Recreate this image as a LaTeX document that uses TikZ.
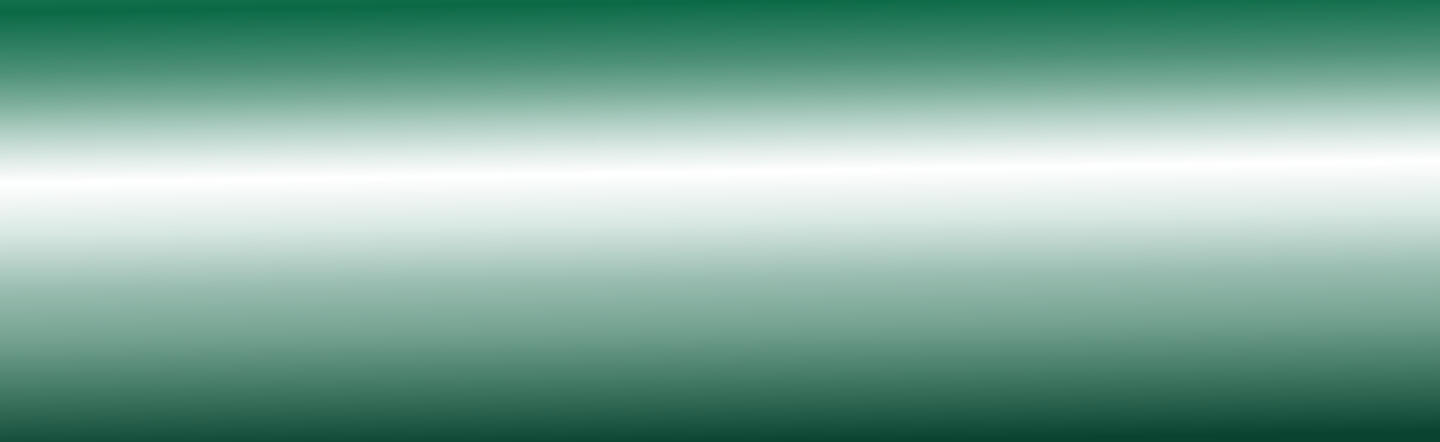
\documentclass[tikz,border=0pt]{standalone}
\usepackage{tikz}
\definecolor{gbot}{HTML}{0A4430}
\definecolor{gl1}{HTML}{437A66}
\definecolor{gl2}{HTML}{73A190}
\definecolor{gl3}{HTML}{98BCAF}
\definecolor{gl4}{HTML}{D9E8E3}
\definecolor{gwhite}{HTML}{FFFFFF}
\definecolor{gu1}{HTML}{E2EDE9}
\definecolor{gu2}{HTML}{B0CFC4}
\definecolor{gu3}{HTML}{7AAD99}
\definecolor{gu4}{HTML}{4D9078}
\definecolor{gu5}{HTML}{2A7D5E}
\definecolor{gtopdark}{HTML}{0B6946}
\definecolor{gtopedge}{HTML}{378B68}
\pgfdeclareverticalshading{greenband}{100bp}{%
  color(0bp)=(gbot);
  color(30.22bp)=(gbot);
  color(35.85bp)=(gl1);
  color(40.31bp)=(gl2);
  color(44.78bp)=(gl3);
  color(49.96bp)=(gl4);
  color(54.42bp)=(gwhite);
  color(56.29bp)=(gu1);
  color(58.97bp)=(gu2);
  color(61.65bp)=(gu3);
  color(64.33bp)=(gu4);
  color(67.01bp)=(gu5);
  color(69.69bp)=(gtopdark);
  color(75bp)=(gtopedge);
  color(100bp)=(gtopedge)}
\begin{document}
\begin{tikzpicture}
  \useasboundingbox (0,0) rectangle (14.4,4.41);
  \clip (0,0) rectangle (14.4,4.41);
  \begin{scope}[transform canvas={rotate around={0.915:(7.2,2.695)}}]
    \shade[shading=greenband] (-0.5,-0.6) rectangle (14.9,5.0);
  \end{scope}
\end{tikzpicture}
\end{document}
